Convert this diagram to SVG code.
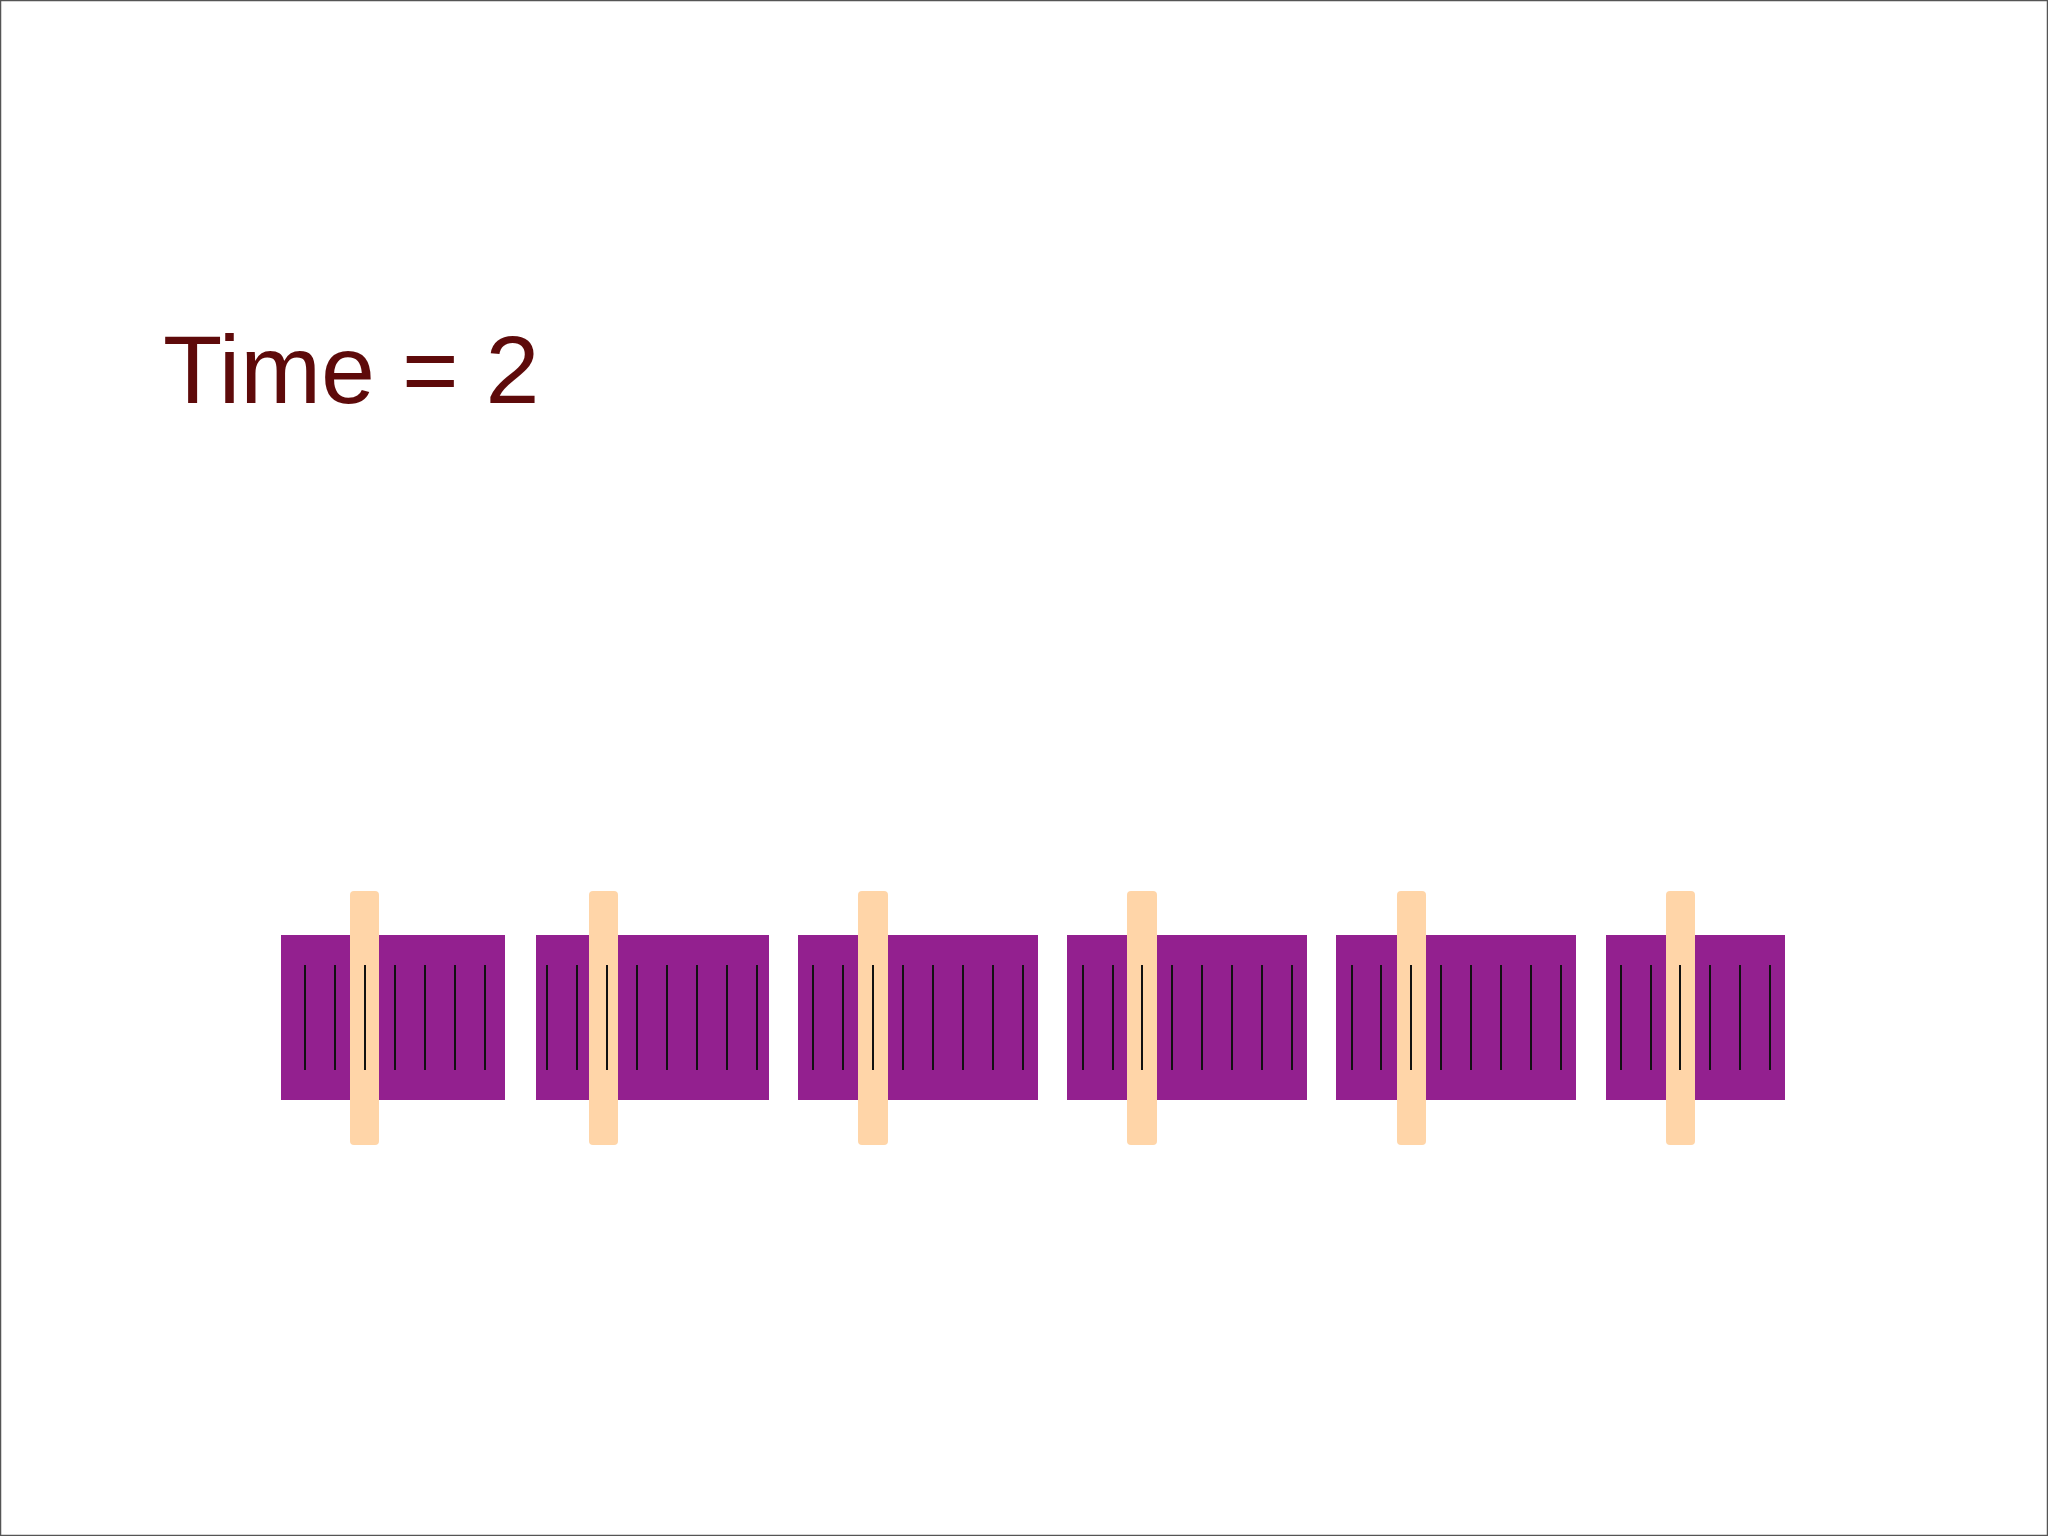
<svg xmlns="http://www.w3.org/2000/svg" width="2048" height="1536" viewBox="0 0 2048 1536">
<style>
.blk{fill:#93208f}
.pin{fill:#ffd5a8}
.ln{stroke:#111;stroke-width:2}
.ttl{font-family:"Liberation Sans",Arial,sans-serif;font-size:97px;fill:#5e0a0a}
</style>
<rect x="0" y="0" width="2048" height="1536" fill="#ffffff"/>
<rect x="0.5" y="0.5" width="2047" height="1535" fill="none" stroke="#555" stroke-width="1.5"/>
<g id="title"><text class="ttl" x="163" y="403">Time = 2</text></g>
<g id="block1">
<rect class="blk" x="281" y="935" width="224" height="165"/>
<rect class="pin" x="350" y="891" width="29" height="254" rx="4"/>
<path class="ln" d="M305 965V1070M335 965V1070M365 965V1070M395 965V1070M425 965V1070M455 965V1070M485 965V1070"/>
</g>
<g id="block2">
<rect class="blk" x="536" y="935" width="233" height="165"/>
<rect class="pin" x="589" y="891" width="29" height="254" rx="4"/>
<path class="ln" d="M547 965V1070M577 965V1070M607 965V1070M637 965V1070M667 965V1070M697 965V1070M727 965V1070M757 965V1070"/>
</g>
<g id="block3">
<rect class="blk" x="798" y="935" width="240" height="165"/>
<rect class="pin" x="858" y="891" width="30" height="254" rx="4"/>
<path class="ln" d="M813 965V1070M843 965V1070M873 965V1070M903 965V1070M933 965V1070M963 965V1070M993 965V1070M1023 965V1070"/>
</g>
<g id="block4">
<rect class="blk" x="1067" y="935" width="240" height="165"/>
<rect class="pin" x="1127" y="891" width="30" height="254" rx="4"/>
<path class="ln" d="M1083 965V1070M1113 965V1070M1142 965V1070M1172 965V1070M1202 965V1070M1232 965V1070M1262 965V1070M1292 965V1070"/>
</g>
<g id="block5">
<rect class="blk" x="1336" y="935" width="240" height="165"/>
<rect class="pin" x="1397" y="891" width="29" height="254" rx="4"/>
<path class="ln" d="M1352 965V1070M1381 965V1070M1411 965V1070M1441 965V1070M1471 965V1070M1501 965V1070M1531 965V1070M1561 965V1070"/>
</g>
<g id="block6">
<rect class="blk" x="1606" y="935" width="179" height="165"/>
<rect class="pin" x="1666" y="891" width="29" height="254" rx="4"/>
<path class="ln" d="M1621 965V1070M1651 965V1070M1680 965V1070M1710 965V1070M1740 965V1070M1770 965V1070"/>
</g>
<g id="connectors"></g>
</svg>
